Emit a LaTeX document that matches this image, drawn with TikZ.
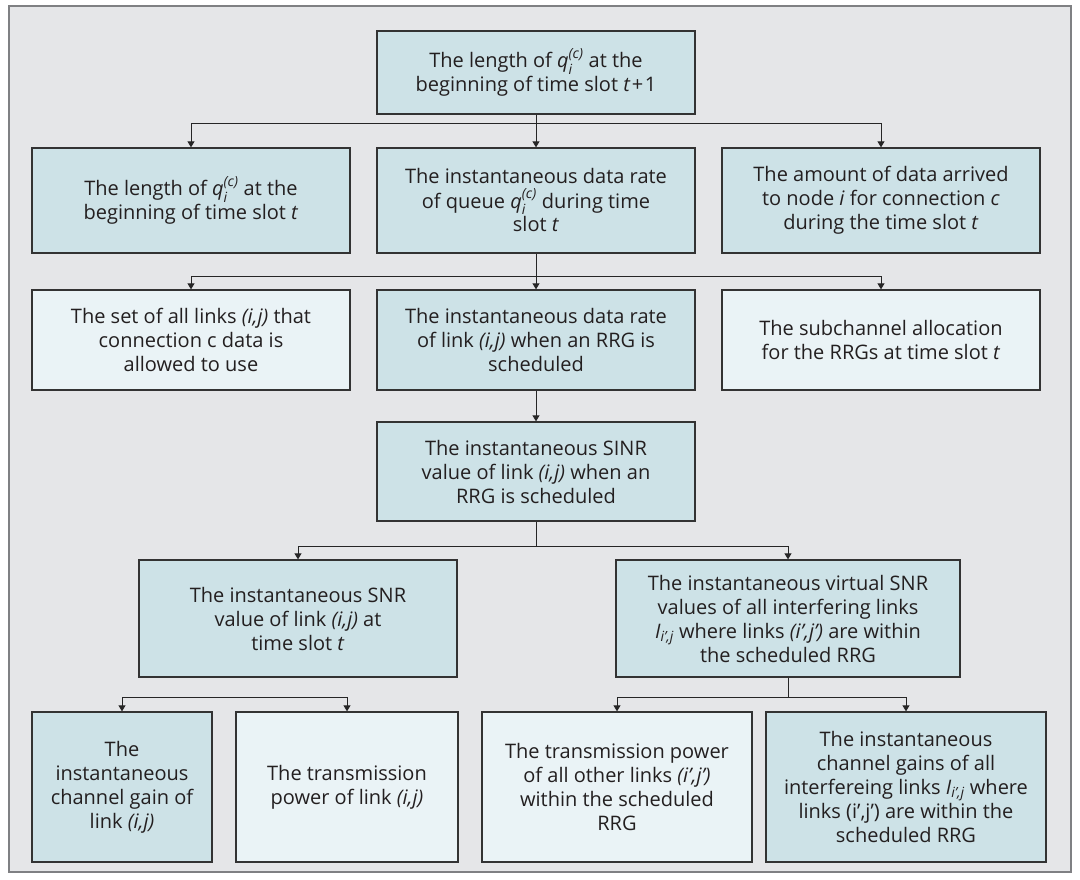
\documentclass[tikz,border=0pt]{standalone}
\usepackage{fontspec}
\setmainfont{Open Sans}
\usepackage{amsmath}
\usetikzlibrary{arrows.meta}

\definecolor{framebg}{HTML}{E5E6E8}
\definecolor{framedraw}{HTML}{7F8083}
\definecolor{darkfill}{HTML}{CDE2E7}
\definecolor{lightfill}{HTML}{EAF3F6}
\definecolor{boxline}{HTML}{333333}
\definecolor{textgray}{HTML}{231F20}

\newcommand{\qic}{$\textit{q}_{\textit{i}}^{\textit{(c)}}$}
\newcommand{\Iij}{$\textit{I}_{\textit{i’,j}}$}

\tikzset{
  darkbox/.style={draw=boxline, line width=1.3pt, fill=darkfill, text=textgray, align=center, inner sep=0pt},
  lightbox/.style={darkbox, fill=lightfill},
  link/.style={draw=black!85, line width=1pt},
  tip/.style={-{Triangle[width=7pt,length=6pt]}},
  twotip/.style={{Triangle[width=7pt,length=6pt]}-{Triangle[width=7pt,length=6pt]}},
}

\begin{document}
\begin{tikzpicture}[x=1pt,y=-1pt]
            \useasboundingbox (0,0) rectangle (1080,880);
            % \clip (0,0) rectangle (1080,880);
            {\fontsize{20}{24}\selectfont

            % Drawing frame
            \draw [fill=framebg, draw=framedraw, line width=1.5pt] (9,6) rectangle (1071,872);%

            % Marking box top
            \node (top) at (536,72.5) [darkbox, minimum width=318, minimum height=83] {The length of \qic{} at the\\beginning of time slot \textit{t}\kern1.5pt+\kern1.5pt1};%

            % Marking boxes of second row
            \node (a2) at (191,200.5) [darkbox, minimum width=318, minimum height=105] {The length of \qic{} at the\\beginning of time slot \textit{t}};%
            \node (b2) at (536,200.5) [darkbox, minimum width=318, minimum height=105] {The instantaneous data rate\\of queue \qic{} during time\\slot \textit{t}};%
            \node (c2) at (881,200.5) [darkbox, minimum width=318, minimum height=105] {The amount of data arrived\\to node \textit{i} for connection \textit{c}\\during the time slot \textit{t}};%

            % Marking boxes of third row
            \node (a3) at (191,340) [lightbox, minimum width=318, minimum height=100] {The set of all links \textit{(i,j)} that\\connection c data is\\allowed to use};%
            \node (b3) at (536,340) [darkbox, minimum width=318, minimum height=100] {The instantaneous data rate\\of link \textit{(i,j)} when an RRG is\\scheduled};%
            \node (c3) at (881,340) [lightbox, minimum width=318, minimum height=100] {The subchannel allocation\\for the RRGs at time slot \textit{t}};%

            % Marking box sinr
            \node (sinr) at (536,471.5) [darkbox, minimum width=318, minimum height=99] {The instantaneous SINR\\value of link \textit{(i,j)} when an\\RRG is scheduled};%

            % Marking boxes snr and virtual snr
            \node (snr) at (298,618.5) [darkbox, minimum width=318, minimum height=117] {The instantaneous SNR\\value of link \textit{(i,j)} at\\time slot \textit{t}};%
            \node (vsnr) at (788,618.5) [darkbox, minimum width=344, minimum height=117] {The instantaneous virtual SNR\\values of all interfering links\\\Iij{} where links \textit{(i’,j’)} are within\\the scheduled RRG};%

            % Marking boxes of last row
            \node (gain) at (122,787) [darkbox, minimum width=180, minimum height=150] {The\\instantaneous\\channel gain of\\link \textit{(i,j)}};%
            \node (pow) at (347,787) [lightbox, minimum width=222, minimum height=150] {The transmission\\power of link \textit{(i,j)}};%
            \node (opow) at (617,787) [lightbox, minimum width=270, minimum height=150] {The transmission power\\of all other links \textit{(i’,j’)}\\within the scheduled\\RRG};%
            \node (igain) at (906,787) [darkbox, minimum width=280, minimum height=150] {The instantaneous\\channel gains of all\\interfereing links \Iij{} where\\links (i’,j’) are within the\\scheduled RRG};%

            % Drawing junctions
            \coordinate (j1) at (536,124);%
            \coordinate (j2) at (536,276);%
            \coordinate (j3) at (536,546);%
            \coordinate (j4) at (122,697);%
            \coordinate (j5) at (788,697);%

            % Drawing line top to second row
            \draw [link] (top) -- (j1);%
            \draw [link, tip] (j1) -| (a2.north);%
            \draw [link, tip] (j1) -- (b2.north);%
            \draw [link, tip] (j1) -| (c2.north);%

            % Drawing line second row to third row
            \draw [link] (b2) -- (j2);%
            \draw [link, tip] (j2) -| (a3.north);%
            \draw [link, tip] (j2) -- (b3.north);%
            \draw [link, tip] (j2) -| (c3.north);%

            % Drawing line b3 sinr
            \draw [link, tip] (b3) -- (sinr.north);%

            % Drawing line sinr to snr boxes
            \draw [link] (sinr) -- (j3);%
            \draw [link, tip] (j3) -| (snr.north);%
            \draw [link, tip] (j3) -| (vsnr.north);%

            % Drawing line over gain and pow
            \draw [link, twotip] (gain.north) |- (j4) -| (pow.north);%

            % Drawing line vsnr to last row
            \draw [link] (vsnr) -- (j5);%
            \draw [link, tip] (j5) -| (opow.north);%
            \draw [link, tip] (j5) -| (igain.north);%
            }
\end{tikzpicture}
\end{document}
